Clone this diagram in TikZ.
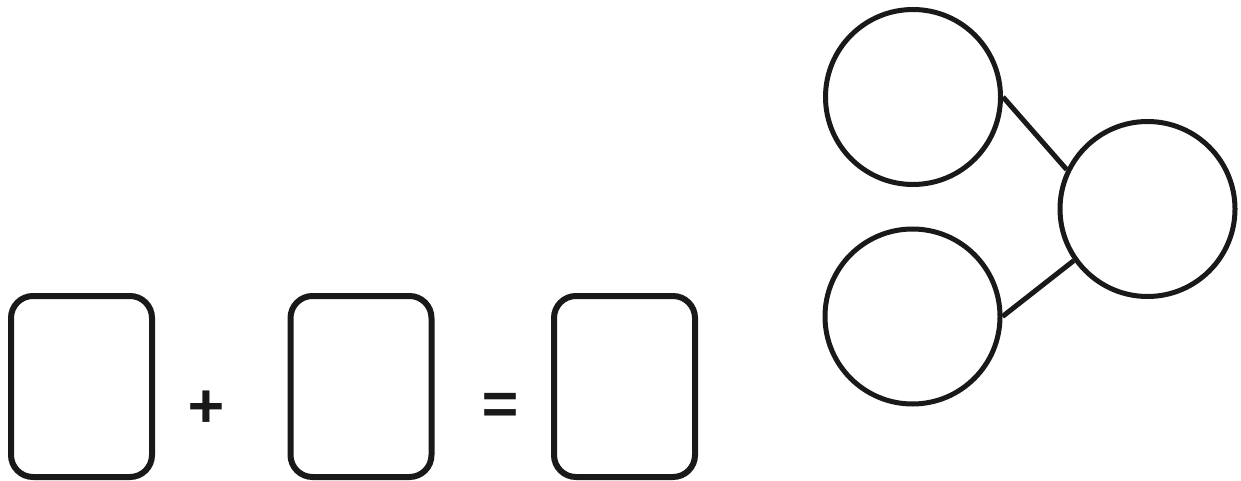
\documentclass[tikz,border=0pt]{standalone}
\usepackage{fontspec}
\setmainfont{Fira Sans}
\begin{document}
\begin{tikzpicture}[x=1pt,y=-1pt,
  card/.style={draw=black!90, line width=6pt, rounded corners=22pt, minimum width=141pt, minimum height=181pt, inner sep=0pt},
  ring/.style={draw=black!90, line width=5pt, circle, minimum size=175pt, inner sep=0pt},
  link/.style={draw=black!90, line width=5pt},
  sym/.style={text=black!90, inner sep=0pt, font=\fontsize{84}{84}\selectfont}]
\useasboundingbox (0,0) rectangle (1241,481);
\node[card] (b1) at (81.5,386.5) {};
\node[card] (b2) at (361,386.5) {};
\node[card] (b3) at (624.5,386.5) {};
\node[sym] (plus) at (206.5,413) {+};
\node[sym] (eq) at (500.5,413) {=};
\node[ring] (c1) at (913,97) {};
\node[ring] (c2) at (912.5,316.5) {};
\node[ring] (c3) at (1147.5,209) {};
\draw[link] (c1.east) -- (c3.154);
\draw[link] (c2.east) -- (c3.215);
\end{tikzpicture}
\end{document}
